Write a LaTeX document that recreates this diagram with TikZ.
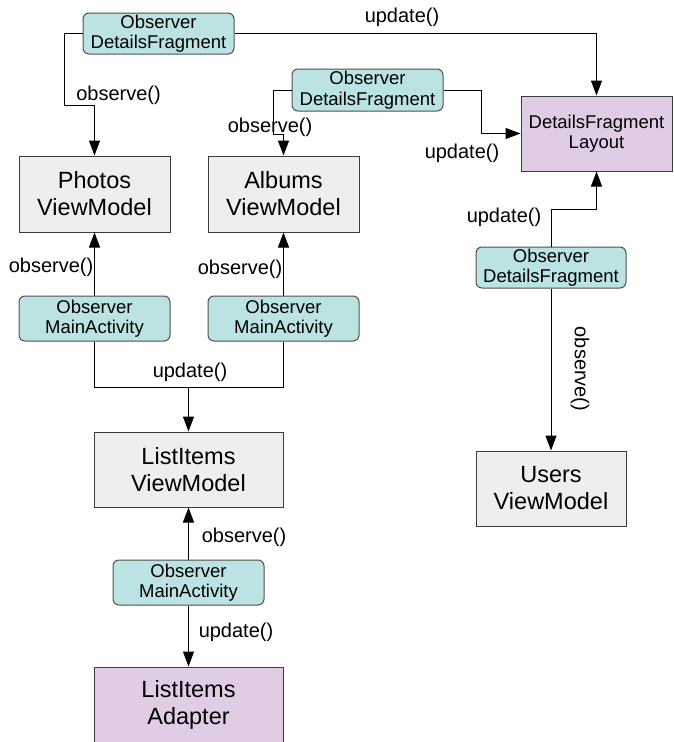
\documentclass[tikz,border=0pt]{standalone}
\usepackage{fontspec}
\setmainfont{Liberation Sans}
\usetikzlibrary{arrows.meta,positioning}
\definecolor{obsfill}{RGB}{187,227,227}
\definecolor{obsline}{RGB}{80,80,80}
\definecolor{modelfill}{RGB}{238,238,238}
\definecolor{viewfill}{RGB}{224,204,228}
\definecolor{boxline}{RGB}{60,60,60}
\tikzset{
  model/.style={draw=boxline, fill=modelfill, line width=1pt, minimum width=151pt, minimum height=76pt, inner sep=0pt, align=center, font=\fontsize{23.5}{27}\selectfont},
  view/.style={model, fill=viewfill},
  observer/.style={draw=obsline, fill=obsfill, line width=1pt, rounded corners=6pt, minimum width=151pt, minimum height=42pt, inner sep=0pt, align=center, font=\fontsize{18.5}{20.5}\selectfont},
  link/.style={-{Triangle[length=15pt,width=11pt]}, line width=1pt},
  wire/.style={line width=1pt},
  call/.style={font=\fontsize{20}{24}\selectfont, inner sep=0pt}
}

\begin{document}
\begin{tikzpicture}[x=1pt,y=-1pt]
  \useasboundingbox (0,0) rectangle (673,742);
  % view models and views
  \node[model] (photosVM) at (94.5,194) {Photos\\ViewModel};
  \node[model] (albumsVM) at (283.5,194) {Albums\\ViewModel};
  \node[view, minimum height=75pt, font=\fontsize{18.5}{20.5}\selectfont] (detailsLayout) at (596.5,133.5) {DetailsFragment\\Layout};
  \node[model, minimum width=150pt, minimum height=75pt] (usersVM) at (551,488.5) {Users\\ViewModel};
  \node[model, minimum width=189pt, minimum height=75pt] (listVM) at (188.5,469.5) {ListItems\\ViewModel};
  \node[view, minimum width=189pt, minimum height=75pt] (listAdapter) at (188.5,704.5) {ListItems\\Adapter};
  % observers
  \node[observer, minimum height=41pt] (obsDF1) at (158.5,33.5) {Observer\\DetailsFragment};
  \node[observer] (obsDF2) at (367.5,90) {Observer\\DetailsFragment};
  \node[observer, minimum width=150pt, minimum height=41pt] (obsDF3) at (551,267.5) {Observer\\DetailsFragment};
  \node[observer, minimum height=45pt] (obsMA1) at (94.5,318.5) {Observer\\MainActivity};
  \node[observer, minimum height=45pt] (obsMA2) at (283.5,318.5) {Observer\\MainActivity};
  \node[observer, minimum height=45pt] (obsMA3) at (188.5,582.5) {Observer\\MainActivity};
  \coordinate (join) at (188.5,387);

  % connectors
  \draw[link] (obsDF1.west) -| (64,105) -| (photosVM.north);
  \draw[link] (obsDF1.east) -| (detailsLayout.north);
  \draw[link] (obsDF2.west) -| (273,134) -| (albumsVM.north);
  \draw[link] (obsDF2.east) -| (481,133.5) -- (detailsLayout.west);
  \draw[link] (obsDF3.north) -- (551,209) -| (detailsLayout.south);
  \draw[link] (obsDF3.south) -- (usersVM.north);
  \draw[link] (obsMA1.north) -- (photosVM.south);
  \draw[link] (obsMA2.north) -- (albumsVM.south);
  \draw[wire] (obsMA1.south) |- (join);
  \draw[wire] (obsMA2.south) |- (join);
  \draw[link] (join) -- (listVM.north);
  \draw[link] (obsMA3.north) -- (listVM.south);
  \draw[link] (obsMA3.south) -- (listAdapter.north);

  % labels
  \node[call] (lblDF1obs) at (118.5,95) {observe()};
  \node[call] (lblDF1upd) at (402,17) {update()};
  \node[call] (lblDF2obs) at (270,127) {observe()};
  \node[call] (lblDF2upd) at (462,153) {update()};
  \node[call] (lblDF3upd) at (504,217) {update()};
  \node[call, rotate=-90] (lblDF3obs) at (580,369) {observe()};
  \node[call] (lblMA1obs) at (51,267) {observe()};
  \node[call] (lblMA2obs) at (240,269) {observe()};
  \node[call] (lblMAupd) at (190,372) {update()};
  \node[call] (lblMA3obs) at (244,537) {observe()};
  \node[call] (lblMA3upd) at (236,632) {update()};
\end{tikzpicture}
\end{document}
